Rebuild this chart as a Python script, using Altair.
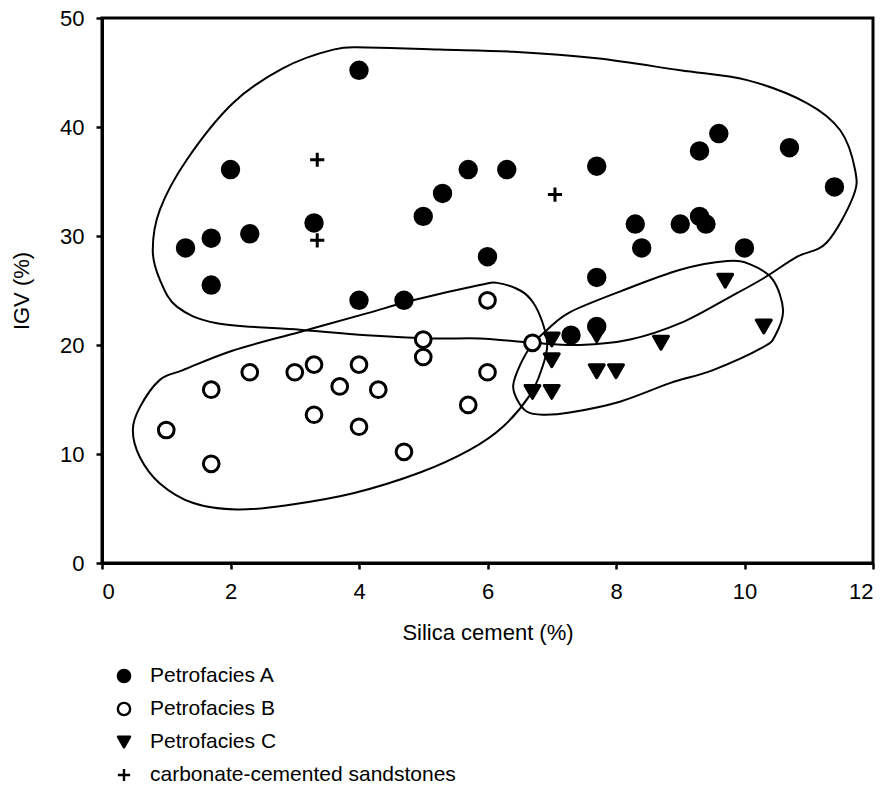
import altair as alt
import pandas as pd

series_names = ["Petrofacies A", "Petrofacies B", "Petrofacies C",
                "carbonate-cemented sandstones"]

# Petrofacies A (filled circles)
a_x = [4.0, 2.0, 5.7, 5.3, 5.0, 3.3, 1.3, 1.7, 2.3, 6.0, 1.7, 4.0, 4.7, 6.3,
       7.7, 9.6, 9.3, 10.7, 11.4, 8.3, 9.0, 9.3, 9.4, 8.4, 10.0, 7.7, 7.3, 7.7]
a_y = [45.2, 36.1, 36.1, 33.9, 31.8, 31.2, 28.9, 29.8, 30.2, 28.1, 25.5, 24.1,
       24.1, 36.1, 36.4, 39.4, 37.8, 38.1, 34.5, 31.1, 31.1, 31.8, 31.1, 28.9,
       28.9, 26.2, 20.9, 21.7]

# Petrofacies B (open circles)
b_x = [6.0, 5.0, 5.0, 3.3, 3.0, 4.0, 2.3, 3.7, 4.3, 1.7, 6.0, 5.7, 3.3, 4.0,
       1.0, 4.7, 1.7, 6.7]
b_y = [24.1, 20.5, 18.9, 18.2, 17.5, 18.2, 17.5, 16.2, 15.9, 15.9, 17.5, 14.5,
       13.6, 12.5, 12.2, 10.2, 9.1, 20.2]

# Petrofacies C (filled down-triangles)
c_x = [9.7, 10.3, 7.0, 7.0, 8.7, 7.7, 8.0, 6.7, 7.0, 7.7]
c_y = [25.9, 21.7, 20.5, 18.6, 20.2, 17.6, 17.6, 15.7, 15.7, 20.9]

# carbonate-cemented sandstones (plus signs)
d_x = [3.35, 3.35, 7.05]
d_y = [37.0, 29.6, 33.8]

# Hand-drawn enclosing loops (outline vertices, in data units)
loop_a_x = [2.04, 2.82, 3.60, 4.12, 5.26, 6.40, 7.70, 9.00, 10.04, 10.97, 11.49,
            11.72, 11.69, 11.28, 10.82, 10.29, 9.77, 9.00, 8.22, 7.44, 6.71,
            5.88, 5.15, 4.12, 3.08, 1.79, 1.17, 0.90, 0.79, 0.90, 1.32]
loop_a_y = [42.2, 45.4, 47.1, 47.3, 47.1, 46.9, 46.3, 45.2, 44.3, 42.2, 39.7,
            36.1, 33.6, 29.4, 28.1, 26.1, 24.4, 22.0, 20.5, 20.0, 20.2, 20.6,
            20.6, 20.9, 21.4, 22.0, 23.5, 26.0, 28.7, 32.4, 37.0]

loop_b_x = [6.15, 6.51, 6.71, 6.86, 6.93, 6.85, 6.66, 6.24, 5.73, 4.95, 3.91,
            2.88, 2.10, 1.42, 0.90, 0.59, 0.48, 0.59, 0.90, 1.26, 2.04, 3.08,
            4.12, 4.84, 5.88]
loop_b_y = [25.7, 25.0, 23.9, 22.0, 20.0, 17.9, 15.4, 12.5, 10.4, 8.3, 6.4,
            5.3, 4.9, 5.5, 7.3, 9.7, 12.2, 14.3, 16.8, 17.7, 19.5, 21.2, 22.9,
            24.1, 25.5]

loop_c_x = [6.93, 7.28, 8.06, 9.00, 9.73, 10.09, 10.44, 10.60, 10.48, 10.29,
            9.51, 8.84, 8.06, 7.28, 6.86, 6.61, 6.46, 6.40, 6.51, 6.69]
loop_c_y = [21.4, 23.0, 24.9, 26.9, 27.7, 27.4, 26.0, 23.2, 20.9, 19.8, 17.7,
            16.5, 14.8, 13.8, 13.6, 13.9, 15.0, 16.3, 18.2, 20.0]

# ---------------------------------------------------------------- tables
pt_rows = []
for name, xs, ys in zip(series_names, [a_x, b_x, c_x, d_x], [a_y, b_y, c_y, d_y]):
    for xv, yv in zip(xs, ys):
        pt_rows.append({"series": name, "silica": xv, "igv": yv})
pts = pd.DataFrame(pt_rows)

loop_rows = []
for lid, xs, ys in [("A", loop_a_x, loop_a_y), ("B", loop_b_x, loop_b_y),
                    ("C", loop_c_x, loop_c_y)]:
    for i, (xv, yv) in enumerate(zip(xs, ys)):
        loop_rows.append({"loop": lid, "i": i, "silica": xv, "igv": yv})
loops = pd.DataFrame(loop_rows)

legend_df = pd.DataFrame({"series": series_names})

FONT = "Liberation Sans, Arial, Helvetica, sans-serif"

x_scale = alt.Scale(domain=[0, 12], nice=False, zero=False)
y_scale = alt.Scale(domain=[0, 50], nice=False, zero=False)

x_axis = alt.Axis(title="Silica cement (%)", values=[0, 2, 4, 6, 8, 10, 12],
                  grid=False, labelPadding=12, titlePadding=20)
y_axis = alt.Axis(title="IGV (%)", values=[0, 10, 20, 30, 40, 50],
                  grid=False, labelPadding=12, titlePadding=26)

plus_path = "M-1,0L1,0M0,-1L0,1"
fill_scale = alt.Scale(domain=series_names,
                       range=["black", "white", "black", "transparent"])
shape_scale = alt.Scale(domain=series_names,
                        range=["circle", "circle", "triangle-down", plus_path])

lines = alt.Chart(loops).mark_line(
    interpolate="cardinal-closed", color="black", strokeWidth=2
).encode(
    x=alt.X("silica:Q", scale=x_scale, axis=x_axis),
    y=alt.Y("igv:Q", scale=y_scale, axis=y_axis),
    detail="loop:N",
    order="i:Q",
)

points = alt.Chart(pts).mark_point(
    filled=True, stroke="black", strokeWidth=3, opacity=1, strokeJoin="round"
).encode(
    x=alt.X("silica:Q", scale=x_scale, axis=x_axis),
    y=alt.Y("igv:Q", scale=y_scale, axis=y_axis),
    fill=alt.Fill("series:N", scale=fill_scale, legend=None),
    shape=alt.Shape("series:N", scale=shape_scale, legend=None),
    size=alt.Size("series:N",
                  scale=alt.Scale(domain=series_names, range=[270, 200, 330, 300]),
                  legend=None),
    order=alt.Order("series:N"),
)

main = alt.layer(lines, points)

# legend rows, placed below the plot with their own point scale
leg_y = alt.Y("series:N", axis=None,
              scale=alt.Scale(domain=series_names, range=[658, 757], padding=0))

leg_symbols = alt.Chart(legend_df).mark_point(
    filled=True, stroke="black", strokeWidth=2.4, opacity=1, strokeJoin="round"
).encode(
    x=alt.value(22),
    y=leg_y,
    fill=alt.Fill("series:N", scale=fill_scale, legend=None),
    shape=alt.Shape("series:N", scale=shape_scale, legend=None),
    size=alt.value(150),
)

leg_text = alt.Chart(legend_df).mark_text(
    align="left", baseline="middle", font=FONT, fontSize=21, color="black"
).encode(
    x=alt.value(48),
    y=leg_y,
    text="series:N",
)

legend_layer = alt.layer(leg_symbols, leg_text)

chart = alt.layer(main, legend_layer).resolve_scale(
    y="independent"
).properties(
    width=771, height=545,
    autosize=alt.AutoSizeParams(type="none"),
    padding={"left": 102, "top": 18, "right": 18, "bottom": 226},
    background="white",
).configure_view(
    stroke="black", strokeWidth=3
).configure_axis(
    domainColor="black", domainWidth=3, tickColor="black", tickWidth=2.5,
    tickSize=6, labelFont=FONT, labelFontSize=22, labelColor="black",
    titleFont=FONT, titleFontSize=22, titleFontWeight="normal", titleColor="black",
)

chart.save("out.html", embed_options={"renderer": "svg", "actions": False})
